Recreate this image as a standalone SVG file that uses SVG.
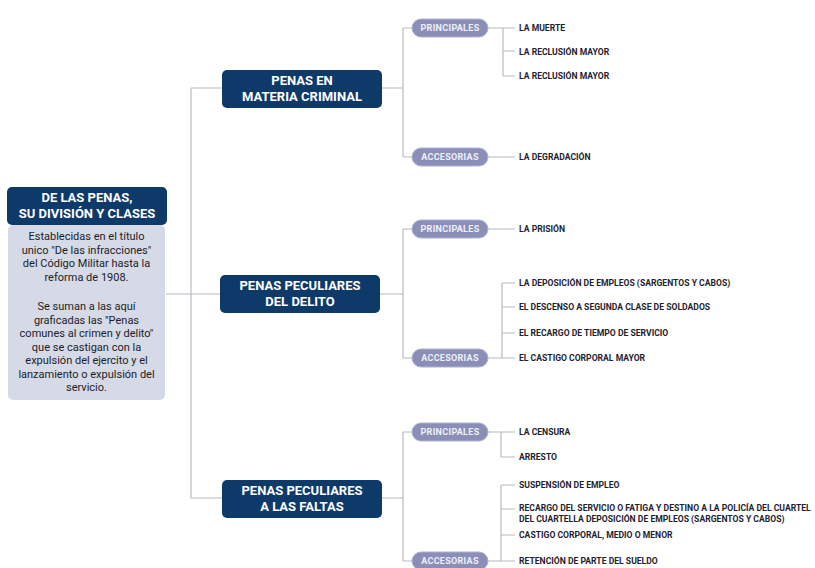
<svg xmlns="http://www.w3.org/2000/svg" width="815" height="568" viewBox="0 0 815 568">
<style>
.c{fill:none;stroke:#b9bac2;stroke-width:1.2}
.n1{fill:#0e3a6a}
.t1{font-family:Roboto,"Liberation Sans",sans-serif;font-weight:bold;font-size:13px;fill:#ffffff;text-anchor:middle}
.pill{fill:#8b8fb7;stroke:#aeb1d2;stroke-width:1}
.tp{font-family:Roboto,"Liberation Sans",sans-serif;font-weight:bold;font-size:9px;fill:#eef0f8;text-anchor:middle;letter-spacing:0.3px}
.t3{font-family:Roboto,"Liberation Sans",sans-serif;font-weight:bold;font-size:8.6px;fill:#1f2330}
.body{font-family:Roboto,"Liberation Sans",sans-serif;font-size:11px;fill:#1c1d28;text-anchor:middle}
</style>
<rect width="815" height="568" fill="#ffffff"/>
<g id="connectors">
<path class="c" d="M166 294H220M191 88V498M191 88H222M191 498H222"/>
<path class="c" d="M382 88H403M403 28V157M403 28H412M403 157H412"/>
<path class="c" d="M380 294H403M403 229V358M403 229H412M403 358H412"/>
<path class="c" d="M382 498H403M403 432V561M403 432H412M403 561H412"/>
<path class="c" d="M488 28H515M503 28V76M503 51H515M503 76H515M488 157H515"/>
<path class="c" d="M488 229H515M488 358H515M502 283V358M502 283H515M502 307H515M502 333H515"/>
<path class="c" d="M488 432H515M501 432V457M501 457H515M488 561H515M501 485V561M501 485H515M501 509H515M501 535H515"/>
</g>
<g id="root">
<rect x="8" y="225" width="157" height="175" rx="5" fill="#d6d9e6"/>
<rect x="7" y="187" width="160" height="38" rx="5" class="n1"/>
<text class="t1" font-size="13.5" x="87" y="202">DE LAS PENAS,</text>
<text class="t1" font-size="13.5" x="87" y="218">SU DIVISIÓN Y CLASES</text>
<text class="body" x="86.5"><tspan x="86.5" y="240">Establecidas en el título</tspan><tspan x="86.5" y="253.5">unico "De las infracciones"</tspan><tspan x="86.5" y="267">del Código Militar hasta la</tspan><tspan x="86.5" y="280.5">reforma de 1908.</tspan><tspan x="86.5" y="310">Se suman a las aquí</tspan><tspan x="86.5" y="323.5">graficadas las "Penas</tspan><tspan x="86.5" y="337">comunes al crimen y delito"</tspan><tspan x="86.5" y="350.5">que se castigan con la</tspan><tspan x="86.5" y="364">expulsión del ejercito y el</tspan><tspan x="86.5" y="377.5">lanzamiento o expulsión del</tspan><tspan x="86.5" y="391">servicio.</tspan></text>
</g>
<g id="n-criminal">
<rect x="222" y="70" width="160" height="38" rx="5" class="n1"/>
<text class="t1" x="302" y="85">PENAS EN</text>
<text class="t1" x="302" y="101">MATERIA CRIMINAL</text>
</g>
<g id="n-delito">
<rect x="220" y="275" width="160" height="38" rx="5" class="n1"/>
<text class="t1" x="300" y="290">PENAS PECULIARES</text>
<text class="t1" x="300" y="306">DEL DELITO</text>
</g>
<g id="n-faltas">
<rect x="222" y="480" width="160" height="38" rx="5" class="n1"/>
<text class="t1" x="302" y="495">PENAS PECULIARES</text>
<text class="t1" x="302" y="511">A LAS FALTAS</text>
</g>
<g id="p1"><rect x="412" y="19" width="76" height="18" rx="9" class="pill"/><text class="tp" x="450" y="31.2">PRINCIPALES</text></g>
<g id="a1"><rect x="412" y="148" width="76" height="18" rx="9" class="pill"/><text class="tp" x="450" y="160.2">ACCESORIAS</text></g>
<g id="p2"><rect x="412" y="220" width="76" height="18" rx="9" class="pill"/><text class="tp" x="450" y="232.2">PRINCIPALES</text></g>
<g id="a2"><rect x="412" y="349" width="76" height="18" rx="9" class="pill"/><text class="tp" x="450" y="361.2">ACCESORIAS</text></g>
<g id="p3"><rect x="412" y="423" width="76" height="18" rx="9" class="pill"/><text class="tp" x="450" y="435.2">PRINCIPALES</text></g>
<g id="a3"><rect x="412" y="552" width="76" height="18" rx="9" class="pill"/><text class="tp" x="450" y="564.2">ACCESORIAS</text></g>
<g id="items">
<text class="t3" x="519" y="30.5">LA MUERTE</text>
<text class="t3" x="519" y="54.5">LA RECLUSIÓN MAYOR</text>
<text class="t3" x="519" y="79">LA RECLUSIÓN MAYOR</text>
<text class="t3" x="519" y="160">LA DEGRADACIÓN</text>
<text class="t3" x="519" y="232">LA PRISIÓN</text>
<text class="t3" x="519" y="286">LA DEPOSICIÓN DE EMPLEOS (SARGENTOS Y CABOS)</text>
<text class="t3" x="519" y="310">EL DESCENSO A SEGUNDA CLASE DE SOLDADOS</text>
<text class="t3" x="519" y="336">EL RECARGO DE TIEMPO DE SERVICIO</text>
<text class="t3" x="519" y="361">EL CASTIGO CORPORAL MAYOR</text>
<text class="t3" x="519" y="435">LA CENSURA</text>
<text class="t3" x="519" y="460">ARRESTO</text>
<text class="t3" x="519" y="488">SUSPENSIÓN DE EMPLEO</text>
<text class="t3" x="519" y="511">RECARGO DEL SERVICIO O FATIGA Y DESTINO A LA POLICÍA DEL CUARTEL</text>
<text class="t3" x="519" y="521.5">DEL CUARTELLA DEPOSICIÓN DE EMPLEOS (SARGENTOS Y CABOS)</text>
<text class="t3" x="519" y="538">CASTIGO CORPORAL, MEDIO O MENOR</text>
<text class="t3" x="519" y="564">RETENCIÓN DE PARTE DEL SUELDO</text>
</g>
</svg>
